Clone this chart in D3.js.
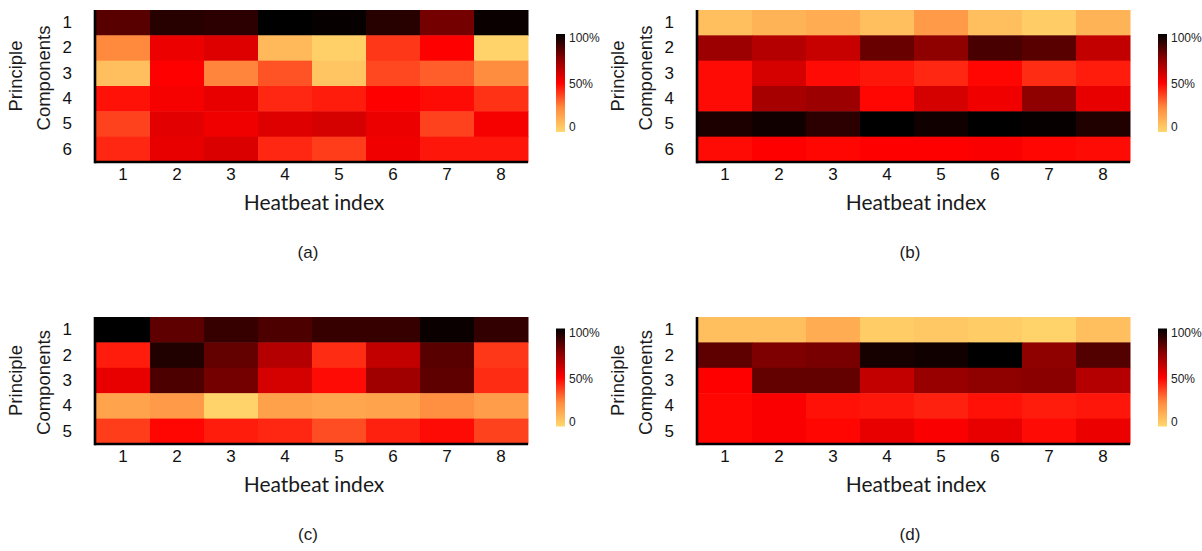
<!DOCTYPE html>
<html>
<head>
<meta charset="utf-8">
<script src="https://cdn.jsdelivr.net/npm/d3@7"></script>
<style>
  body { margin: 0; background: #fff; }
  svg { display: block; }
  .ylab { font-family: "Liberation Sans", Arial, sans-serif; font-size: 18.5px; fill: #1a1a1a; }
  .xlab { font-family: Lato, "Open Sans", sans-serif; font-size: 21px; fill: #1a1a1a; }
  .cap { font-family: "Liberation Sans", Arial, sans-serif; font-size: 17px; fill: #1a1a1a; }
</style>
</head>
<body>
<svg id="chart" width="1202" height="551"></svg>
<script>
// heartbeat index on x, principal components on y
const heartbeats = [1, 2, 3, 4, 5, 6, 7, 8];
const componentsSix = [1, 2, 3, 4, 5, 6];
const componentsFive = [1, 2, 3, 4, 5];

// contribution (0..1), one row per component
const valuesA = [
  [0.84, 0.93, 0.92, 1.00, 0.99, 0.93, 0.79, 0.98],
  [0.25, 0.54, 0.57, 0.10, 0.03, 0.40, 0.50, 0.02],
  [0.08, 0.50, 0.26, 0.35, 0.06, 0.37, 0.33, 0.24],
  [0.47, 0.52, 0.55, 0.43, 0.45, 0.50, 0.48, 0.41],
  [0.38, 0.56, 0.53, 0.57, 0.59, 0.54, 0.38, 0.52],
  [0.43, 0.55, 0.58, 0.43, 0.39, 0.53, 0.46, 0.46]
];
const valuesB = [
  [0.08, 0.12, 0.14, 0.08, 0.20, 0.08, 0.04, 0.12],
  [0.71, 0.66, 0.62, 0.81, 0.74, 0.87, 0.84, 0.63],
  [0.48, 0.59, 0.48, 0.46, 0.43, 0.49, 0.42, 0.45],
  [0.48, 0.69, 0.71, 0.49, 0.59, 0.53, 0.74, 0.55],
  [0.95, 0.97, 0.92, 1.00, 0.97, 1.00, 0.99, 0.94],
  [0.48, 0.50, 0.49, 0.50, 0.50, 0.51, 0.49, 0.48]
];
const valuesC = [
  [1.00, 0.83, 0.90, 0.86, 0.90, 0.90, 0.98, 0.91],
  [0.45, 0.94, 0.82, 0.66, 0.42, 0.63, 0.84, 0.40],
  [0.55, 0.86, 0.79, 0.59, 0.48, 0.70, 0.83, 0.42],
  [0.17, 0.20, 0.02, 0.18, 0.16, 0.17, 0.23, 0.19],
  [0.39, 0.49, 0.45, 0.43, 0.36, 0.44, 0.48, 0.38]
];
const valuesD = [
  [0.08, 0.08, 0.14, 0.04, 0.05, 0.04, 0.02, 0.08],
  [0.83, 0.77, 0.78, 0.96, 0.97, 1.00, 0.74, 0.85],
  [0.50, 0.82, 0.82, 0.63, 0.72, 0.74, 0.75, 0.66],
  [0.49, 0.51, 0.47, 0.46, 0.44, 0.47, 0.45, 0.46],
  [0.49, 0.51, 0.49, 0.55, 0.51, 0.55, 0.48, 0.54]
];

const colorTicks = [0, 0.5, 1];
const colorTickLabels = ["0", "50%", "100%"];

const color = d3.scaleLinear()
  .domain([0, 0.25, 0.5, 0.75, 1])
  .range(["#ffd86e", "#ff8a3e", "#ff0000", "#8a0000", "#000000"])
  .clamp(true);

const panels = [
  { id: "a", comps: componentsSix, values: valuesA, x0: 96, y0: 10, y1: 162, labelShift: -10 },
  { id: "b", comps: componentsSix, values: valuesB, x0: 698, y0: 10, y1: 162, labelShift: -10 },
  { id: "c", comps: componentsFive, values: valuesC, x0: 96, y0: 317, y1: 444, labelShift: 0 },
  { id: "d", comps: componentsFive, values: valuesD, x0: 698, y0: 317, y1: 444, labelShift: 0 }
];

const svg = d3.select("#chart");
const defs = svg.append("defs");

const grad = defs.append("linearGradient")
  .attr("id", "cgrad")
  .attr("x1", 0).attr("y1", 1).attr("x2", 0).attr("y2", 0);
d3.range(0, 1.001, 0.05).forEach(function(t) {
  grad.append("stop").attr("offset", t).attr("stop-color", color(t));
});

const plotW = 432;
const tickFont = "Liberation Sans, Arial, sans-serif";

panels.forEach(function(p) {
  const g = svg.append("g");

  const x = d3.scaleBand().domain(heartbeats).range([p.x0, p.x0 + plotW]);
  const y = d3.scaleBand().domain(p.comps).range([p.y0, p.y1]);

  const cells = [];
  p.values.forEach(function(row, i) {
    row.forEach(function(v, j) {
      cells.push({ comp: p.comps[i], beat: heartbeats[j], v: v });
    });
  });

  g.selectAll("rect.cell")
    .data(cells)
    .enter()
    .append("rect")
    .attr("class", "cell")
    .attr("x", function(d) { return x(d.beat); })
    .attr("y", function(d) { return y(d.comp); })
    .attr("width", x.bandwidth() + 0.5)
    .attr("height", y.bandwidth() + 0.5)
    .attr("fill", function(d) { return color(d.v); });

  // axes: thick black left and bottom lines, no tick marks
  const xAxis = g.append("g")
    .attr("transform", "translate(0," + p.y1 + ")")
    .call(d3.axisBottom(x).tickSize(0).tickPadding(6))
    .attr("font-size", 17)
    .attr("font-family", tickFont);
  xAxis.selectAll("text").attr("fill", "#111");
  xAxis.select(".domain").attr("stroke", "#000").attr("stroke-width", 2.6)
    .attr("d", "M" + (p.x0 - 1.3) + ",0H" + (p.x0 + plotW));

  const yAxis = g.append("g")
    .attr("transform", "translate(" + p.x0 + ",0)")
    .call(d3.axisLeft(y).tickSize(0).tickPadding(24))
    .attr("font-size", 17)
    .attr("font-family", tickFont);
  yAxis.selectAll("text").attr("fill", "#111");
  yAxis.select(".domain").attr("stroke", "#000").attr("stroke-width", 2.6)
    .attr("d", "M0," + p.y0 + "V" + (p.y1 + 1.3)).attr("transform", "translate(-1,0)");

  const midX = p.x0 + plotW / 2;
  const midY = (p.y0 + p.y1) / 2 + p.labelShift;

  g.append("text").attr("class", "xlab")
    .attr("x", midX + 2).attr("y", p.y1 + 48)
    .attr("text-anchor", "middle")
    .text("Heatbeat index");

  g.append("text").attr("class", "ylab")
    .attr("transform", "translate(" + (p.x0 - 74) + "," + midY + ") rotate(-90)")
    .attr("text-anchor", "middle")
    .text("Principle");
  g.append("text").attr("class", "ylab")
    .attr("transform", "translate(" + (p.x0 - 46) + "," + (midY + 2) + ") rotate(-90)")
    .attr("text-anchor", "middle")
    .text("Components");

  g.append("text").attr("class", "cap")
    .attr("x", midX - 4).attr("y", p.y1 + 96)
    .attr("text-anchor", "middle")
    .text("(" + p.id + ")");

  // colour bar
  const cTop = (p.y0 + p.y1) / 2 - 52;
  const cBot = cTop + 98;
  const cx = p.x0 + plotW + 28;
  const cScale = d3.scaleLinear().domain([0, 1]).range([cBot, cTop]);
  const cb = g.append("g");
  cb.append("rect")
    .attr("x", cx).attr("y", cTop)
    .attr("width", 9).attr("height", cBot - cTop)
    .attr("fill", "url(#cgrad)");
  cb.selectAll("text")
    .data(colorTicks)
    .enter()
    .append("text")
    .attr("x", cx + 13)
    .attr("y", function(d) { return cScale(d) + (d === 1 ? 8 : d === 0 ? -1 : 5); })
    .attr("font-family", tickFont)
    .attr("font-size", 12)
    .attr("fill", "#222")
    .text(function(d, i) { return colorTickLabels[i]; });
});
</script>
</body>
</html>
